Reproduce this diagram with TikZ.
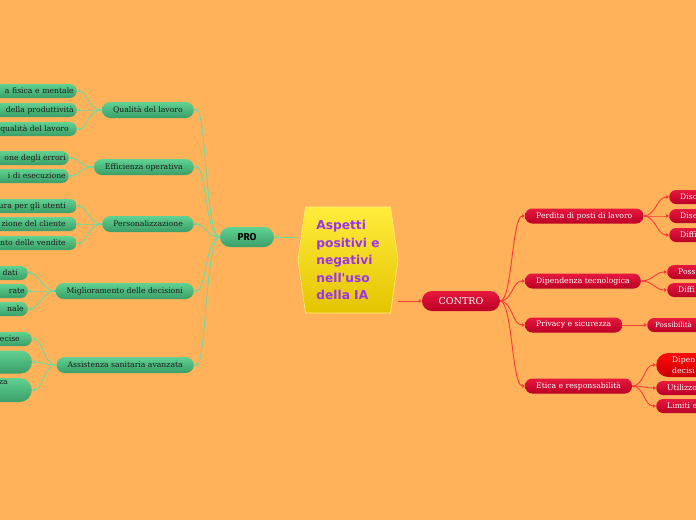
\documentclass[tikz,border=0pt]{standalone}
\usepackage{fontspec}
\setmainfont{DejaVu Serif}
\newfontfamily\topicfont{DejaVu Sans}
\newfontfamily\profont{Fira Sans}
\usetikzlibrary{shapes.symbols,arrows.meta}
\definecolor{mapbg}{RGB}{255,178,90}
\definecolor{greentop}{RGB}{96,210,146}
\definecolor{greenbot}{RGB}{58,158,104}
\definecolor{greenlink}{RGB}{110,218,160}
\definecolor{redtop}{RGB}{232,24,62}
\definecolor{redbot}{RGB}{186,0,38}
\definecolor{hottop}{RGB}{255,10,10}
\definecolor{hotbot}{RGB}{200,0,0}
\definecolor{redlink}{RGB}{255,58,58}
\definecolor{hextop}{RGB}{255,236,60}
\definecolor{hexbot}{RGB}{228,196,0}
\definecolor{hexline}{RGB}{255,240,120}
\definecolor{hexpurple}{RGB}{153,51,238}
\pgfdeclarelayer{links}
\pgfsetlayers{links,main}

\begin{document}
\begin{tikzpicture}[x=1pt,y=-1pt,>=Triangle,
  every node/.style={font=\fontsize{7.7}{9}\selectfont},
  hexnode/.style={signal,signal to=east and west,signal pointer angle=164,
    minimum width=100pt,minimum height=106pt,inner sep=0pt,
    top color=hextop,bottom color=hexbot,draw=hexline,line width=0.6pt,
    text=hexpurple,align=left,font=\topicfont\bfseries\fontsize{12.2}{17.5}\selectfont},
  pronode/.style={rounded corners=10pt,minimum width=54pt,minimum height=20pt,inner sep=0pt,
    top color=greentop,bottom color=greenbot,text=black,
    font=\profont\bfseries\fontsize{10}{12}\selectfont},
  connode/.style={rounded corners=10pt,minimum width=78pt,minimum height=20pt,inner sep=0pt,
    top color=redtop,bottom color=redbot,text=white,font=\fontsize{9.5}{11}\selectfont},
  prokid/.style={rounded corners=8pt,minimum height=16pt,inner xsep=11pt,inner ysep=0pt,
    top color=greentop,bottom color=greenbot,text=black!90,anchor=east},
  proleaf/.style={prokid,rounded corners=7pt,minimum height=14pt,text width=120pt,
    align=right,inner xsep=#1},
  proleaf/.default=10pt,
  conkid/.style={rounded corners=7pt,minimum height=15pt,inner xsep=11pt,inner ysep=0pt,
    top color=redtop,bottom color=redbot,text=white,anchor=west},
  conleaf/.style={conkid,minimum height=14pt,text width=80pt,align=left,inner xsep=#1},
  conleaf/.default=11pt,
  prolink/.style={draw=greenlink,line width=0.9pt,-{Triangle[length=3pt,width=3.5pt]}},
  conlink/.style={draw=redlink,line width=0.9pt,-{Triangle[length=3pt,width=3.5pt]}}]

  \useasboundingbox (0,0) rectangle (696,520);
  \begin{pgfonlayer}{links}
    \fill[mapbg] (0,0) rectangle (696,520);
  \end{pgfonlayer}

  % central topic
  \node[hexnode] (topic) at (348,260) {Aspetti\\positivi e\\negativi\\nell'uso\\della IA};

  % PRO side
  \node[pronode] (pro) at (247,237) {PRO};
  \node[prokid] (qual) at (194,110) {Qualità del lavoro};
  \node[prokid] (effi) at (194,167) {Efficienza operativa};
  \node[prokid] (pers) at (194,224) {Personalizzazione};
  \node[prokid] (migl) at (194,291) {Miglioramento delle decisioni};
  \node[prokid] (assi) at (194,365) {Assistenza sanitaria avanzata};

  \node[proleaf=3pt] (qual1) at (77,91) {a fisica e mentale};
  \node[proleaf=3pt] (qual2) at (77,110) {della produttività};
  \node[proleaf=8pt] (qual3) at (77,129) {qualità del lavoro};
  \node[proleaf=3pt] (effi1) at (69,158) {one degli errori};
  \node[proleaf=3pt] (effi2) at (69,176) {i di esecuzione};
  \node[proleaf=11pt] (pers1) at (77,206) {ura per gli utenti};
  \node[proleaf=11pt] (pers2) at (77,224) {zione del cliente};
  \node[proleaf=11pt] (pers3) at (77,243) {nto delle vendite};
  \node[proleaf] (migl1) at (28,273) {dati};
  \node[proleaf=3pt] (migl2) at (28,291) {rate};
  \node[proleaf=4pt] (migl3) at (28,309) {nale};
  \node[proleaf=12pt] (assi1) at (32,339) {ecise};
  \node[proleaf,rounded corners=11pt,minimum height=23pt] (assi2) at (32,362) {};
  \node[proleaf=24pt,rounded corners=12pt,minimum height=24pt,
    font=\fontsize{7.7}{11}\selectfont] (assi3) at (32,390) {za\\\strut};

  % CONTRO side
  \node[connode] (con) at (461,301) {CONTRO};
  \node[conkid] (perd) at (525,216) {Perdita di posti di lavoro};
  \node[conkid] (dipe) at (525,281) {Dipendenza tecnologica};
  \node[conkid] (priv) at (525,325) {Privacy e sicurezza};
  \node[conkid] (etic) at (525,386) {Etica e responsabilità};

  \node[conleaf] (perd1) at (669,197) {Diso};
  \node[conleaf] (perd2) at (669,216) {Dise};
  \node[conleaf] (perd3) at (669,235) {Diffi};
  \node[conleaf] (dipe1) at (667,272) {Poss};
  \node[conleaf] (dipe2) at (667,290) {Diffi};
  \node[conleaf=8pt,font=\fontsize{7.1}{9}\selectfont] (priv1) at (647,325) {Possibilità};
  \node[conleaf=16pt,rounded corners=12pt,minimum height=24pt,top color=hottop,
    bottom color=hotbot,font=\fontsize{7.7}{11}\selectfont] (etic1) at (656,365) {Dipen\\decisi};
  \node[conleaf] (etic2) at (656,388) {Utilizzo};
  \node[conleaf] (etic3) at (656,406) {Limiti e};

  % connectors
  \begin{pgfonlayer}{links}
    \draw[prolink] (topic.west |- pro.east) -- (pro.east);
    \draw[conlink] (topic.east |- con.west) -- (con.west);
    \foreach \k in {qual,effi,pers,migl,assi}
      \draw[prolink] (pro.west) .. controls +(-14,0) and +(12,0) .. (\k.east);
    \foreach \k in {qual1,qual2,qual3}
      \draw[prolink] (qual.west) .. controls +(-14,0) and +(10,0) .. (\k.east);
    \foreach \k in {effi1,effi2}
      \draw[prolink] (effi.west) .. controls +(-14,0) and +(10,0) .. (\k.east);
    \foreach \k in {pers1,pers2,pers3}
      \draw[prolink] (pers.west) .. controls +(-14,0) and +(10,0) .. (\k.east);
    \foreach \k in {migl1,migl2,migl3}
      \draw[prolink] (migl.west) .. controls +(-12,0) and +(10,0) .. (\k.east);
    \foreach \k in {assi1,assi2,assi3}
      \draw[prolink] (assi.west) .. controls +(-12,0) and +(10,0) .. (\k.east);
    \foreach \k in {perd,dipe,priv,etic}
      \draw[conlink] (con.east) .. controls +(12,0) and +(-13,0) .. (\k.west);
    \foreach \k in {perd1,perd2,perd3}
      \draw[conlink] (perd.east) .. controls +(12,0) and +(-12,0) .. (\k.west);
    \foreach \k in {dipe1,dipe2}
      \draw[conlink] (dipe.east) .. controls +(12,0) and +(-12,0) .. (\k.west);
    \draw[conlink] (priv.east) -- (priv1.west);
    \foreach \k in {etic1,etic2,etic3}
      \draw[conlink] (etic.east) .. controls +(12,0) and +(-12,0) .. (\k.west);
  \end{pgfonlayer}
\end{tikzpicture}
\end{document}
